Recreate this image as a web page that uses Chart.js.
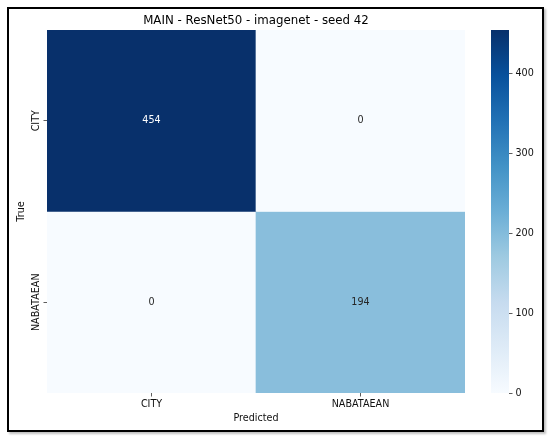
<!DOCTYPE html>
<html>
<head>
<meta charset="utf-8">
<script src="https://cdn.jsdelivr.net/npm/chart.js@4.4.1/dist/chart.umd.min.js"></script>
<style>
  html, body { margin: 0; padding: 0; background: #ffffff; }
  #wrap { position: relative; width: 550px; height: 439px; overflow: hidden; background: #fff; }
  #frame { position: absolute; left: 7px; top: 7px; width: 537px; height: 425px; box-sizing: border-box;
           border: 2px solid #000; box-shadow: 2px 2px 2px rgba(0,0,0,0.25); }
  #mainBox { position: absolute; left: 0; top: 0; width: 550px; height: 439px; }
  #cbarBox { position: absolute; left: 470px; top: 0; width: 80px; height: 439px; }
</style>
</head>
<body>
<div id="wrap">
  <div id="frame"></div>
  <div id="mainBox"><canvas id="main"></canvas></div>
  <div id="cbarBox"><canvas id="cbar"></canvas></div>
</div>
<script>
// ---- data ----
const categories = ['CITY', 'NABATAEAN'];
const rowCity = [454, 0];
const rowNabataean = [0, 194];
const colorbarTicks = [0, 100, 200, 300, 400];
const titleText = 'MAIN - ResNet50 - imagenet - seed 42';
const xTitle = 'Predicted';
const yTitle = 'True';

const matrixRows = [rowCity, rowNabataean];
const allVals = matrixRows.flat();
const vmin = Math.min(...allVals);
const vmax = Math.max(...allVals);

// matplotlib "Blues" colormap stops
const bluesStops = ['#f7fbff','#deebf7','#c6dbef','#9ecae1','#6baed6','#4292c6','#2171b5','#08519c','#08306b'];
function hex2rgb(h){ return [parseInt(h.substr(1,2),16), parseInt(h.substr(3,2),16), parseInt(h.substr(5,2),16)]; }
function blues(t){
  t = Math.max(0, Math.min(1, t));
  const n = bluesStops.length - 1;
  const p = t * n; const i = Math.min(Math.floor(p), n - 1); const f = p - i;
  const a = hex2rgb(bluesStops[i]), b = hex2rgb(bluesStops[i+1]);
  const c = a.map((v,k) => Math.round(v + (b[k]-v)*f));
  return 'rgb(' + c.join(',') + ')';
}
function lum(t){
  const m = blues(t).match(/\d+/g).map(Number);
  return 0.2126*m[0] + 0.7152*m[1] + 0.0722*m[2];
}

const FONT = 'DejaVu Sans';
const TXT = '#111111';

const datasets = matrixRows.map((row, r) => ({
  label: categories[r],
  data: row.map(() => [r, r + 1]),
  values: row,
  backgroundColor: row.map(v => blues((v - vmin) / (vmax - vmin))),
  borderWidth: 0,
  barPercentage: 1.0,
  categoryPercentage: 1.0,
  grouped: false
}));

const annotate = {
  id: 'annotate',
  afterDatasetsDraw(chart) {
    const ctx = chart.ctx;
    ctx.save();
    ctx.font = '9.6px "' + FONT + '"';
    ctx.textAlign = 'center';
    ctx.textBaseline = 'middle';
    chart.data.datasets.forEach((ds, di) => {
      const meta = chart.getDatasetMeta(di);
      meta.data.forEach((el, i) => {
        const v = ds.values[i];
        const t = (v - vmin) / (vmax - vmin);
        ctx.fillStyle = lum(t) < 128 ? '#ffffff' : '#262626';
        ctx.fillText(String(v), el.x, (el.y + el.base) / 2);
      });
    });
    ctx.restore();
  },
  afterDraw(chart) {
    // rotated y tick labels (matplotlib style, vertical)
    const ys = chart.scales.y;
    const ctx = chart.ctx;
    ctx.save();
    ctx.font = '9.6px "' + FONT + '"';
    ctx.fillStyle = TXT;
    ctx.textAlign = 'center';
    ctx.textBaseline = 'middle';
    ys.ticks.forEach((tk, i) => {
      const py = ys.getPixelForValue(tk.value);
      ctx.save();
      ctx.translate(36.5, py);
      ctx.rotate(-Math.PI / 2);
      ctx.fillText(categories[i], 0, 0);
      ctx.restore();
    });
    ctx.restore();
  }
};

new Chart(document.getElementById('main'), {
  type: 'bar',
  data: { labels: categories, datasets },
  options: {
    responsive: true,
    maintainAspectRatio: false,
    animation: false,
    events: [],
    layout: { padding: { top: 0, right: 85, bottom: 0, left: 0 } },
    plugins: {
      legend: { display: false },
      tooltip: { enabled: false },
      title: {
        display: true, text: titleText, fullSize: false, color: '#000',
        font: { family: FONT, size: 11.8, weight: 'normal', lineHeight: 1.2 },
        padding: { top: 13.5, bottom: 2.34 }
      }
    },
    scales: {
      x: {
        type: 'category',
        offset: true,
        border: { display: false },
        grid: { drawOnChartArea: false, drawTicks: true, tickLength: 3.5, offset: false, color: '#333', lineWidth: 0.8 },
        ticks: { color: TXT, font: { family: FONT, size: 9.6 }, padding: 2.5, maxRotation: 0, minRotation: 0 },
        title: { display: true, text: xTitle, color: TXT, font: { family: FONT, size: 9.6, lineHeight: 1.2 }, padding: { top: 0, bottom: 14.7 } },
        afterFit(s) { s.height = 46; }
      },
      y: {
        type: 'linear',
        min: 0, max: 2, reverse: true,
        border: { display: false },
        grid: { drawOnChartArea: false, drawTicks: true, tickLength: 3.5, color: '#333', lineWidth: 0.8 },
        afterBuildTicks(s) { s.ticks = categories.map((c, i) => ({ value: i + 0.5 })); },
        ticks: { display: false },
        title: { display: true, text: yTitle, color: TXT, font: { family: FONT, size: 9.6, lineHeight: 1.2 }, padding: { top: 15.8, bottom: 0 } },
        afterFit(s) { s.width = 47; }
      }
    }
  },
  plugins: [annotate]
});

// ---- colorbar ----
function cbarGradient(ctx) {
  const chart = ctx.chart;
  const a = chart.chartArea;
  if (!a) return bluesStops[8];
  const y = chart.scales.y;
  const g = chart.ctx.createLinearGradient(0, y.getPixelForValue(vmin), 0, y.getPixelForValue(vmax));
  bluesStops.forEach((c, i) => g.addColorStop(i / (bluesStops.length - 1), c));
  return g;
}

new Chart(document.getElementById('cbar'), {
  type: 'bar',
  data: { labels: [''], datasets: [{ data: [[vmin, vmax]], backgroundColor: cbarGradient, borderWidth: 0, barPercentage: 1.0, categoryPercentage: 1.0 }] },
  options: {
    responsive: true,
    maintainAspectRatio: false,
    animation: false,
    events: [],
    layout: { padding: { top: 30, right: 0, bottom: 46, left: 21 } },
    plugins: { legend: { display: false }, tooltip: { enabled: false }, title: { display: false } },
    scales: {
      x: { display: false, offset: true },
      y: {
        position: 'right',
        min: vmin, max: vmax,
        border: { display: false },
        grid: { drawOnChartArea: false, drawTicks: true, tickLength: 3.5, color: '#333', lineWidth: 0.8 },
        afterBuildTicks(s) { s.ticks = colorbarTicks.map(v => ({ value: v })); },
        ticks: { color: TXT, font: { family: FONT, size: 9.6 }, padding: 3 },
        afterFit(s) { s.width = 41; }
      }
    }
  }
});
</script>
</body>
</html>
